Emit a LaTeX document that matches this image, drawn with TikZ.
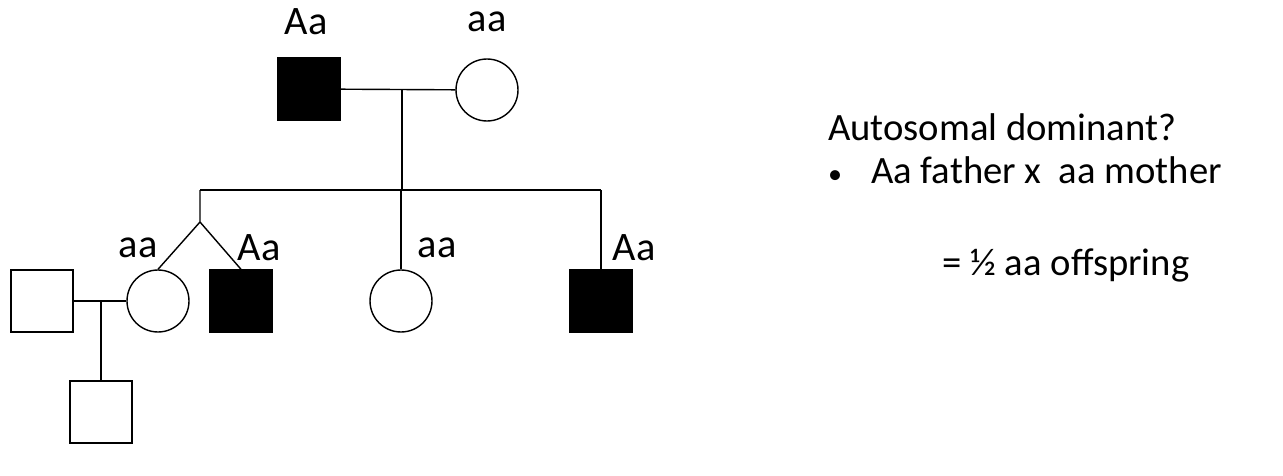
\documentclass[tikz,border=0pt]{standalone}
\usepackage{fontspec}
\setmainfont{Carlito}
\usetikzlibrary{positioning}
\begin{document}
\begin{tikzpicture}[x=0.02cm,y=-0.02cm,
  male/.style={draw,thick,minimum size=1.24cm,inner sep=0pt},
  female/.style={draw,thick,circle,minimum size=1.24cm,inner sep=0pt},
  aff/.style={fill=black},
  geno/.style={font=\fontsize{23}{26}\selectfont},
  txt/.style={font=\fontsize{22}{26}\selectfont,anchor=west}]
\useasboundingbox (0,0) rectangle (1283,476);
% parents
\node[male,aff] (father) at (309,89) {};
\node[female] (mother) at (487,90) {};
\node[geno] at (306,22) {Aa};
\node[geno] at (487,22) {aa};
\coordinate (pm) at (402,90);
\draw[thick] (father) -- (mother);
\coordinate (sib) at (402,190);
\draw[thick] (pm) -- (sib);
% children
\coordinate (sibl) at (200,190);
\coordinate (sibr) at (601,190);
\draw[thick] (sibl) -- (sibr);
\coordinate (twin) at (200,222);
\node[female] (dau1) at (158,301) {};
\node[male,aff] (son1) at (241,301) {};
\node[female] (dau2) at (401,301) {};
\node[male,aff] (son2) at (601,301) {};
\draw[thick] (sibl) -- (twin) -- (dau1.north);
\draw[thick] (twin) -- (son1.north);
\draw[thick] (dau2.north) -- (dau2.north |- sibl);
\draw[thick] (sibr) -- (son2.north);
\node[geno] at (138,248) {aa};
\node[geno] at (259,248) {Aa};
\node[geno] at (437,248) {aa};
\node[geno] at (634,248) {Aa};
% spouse and grandchild
\node[male] (husb) at (42,301) {};
\draw[thick] (husb) -- (dau1);
\coordinate (hm) at (101,301);
\node[male] (gchild) at (101,412) {};
\draw[thick] (hm) -- (gchild);
% text
\node[txt] (q) at (822,127) {Autosomal dominant?};
\node[txt] (b) at (822,170) {{\fontsize{16}{20}\selectfont\textbullet}\hspace{0.75em}Aa father x\ \ aa mother};
\node[txt] (r) at (936,265) {= ½ aa offspring};
\end{tikzpicture}
\end{document}
